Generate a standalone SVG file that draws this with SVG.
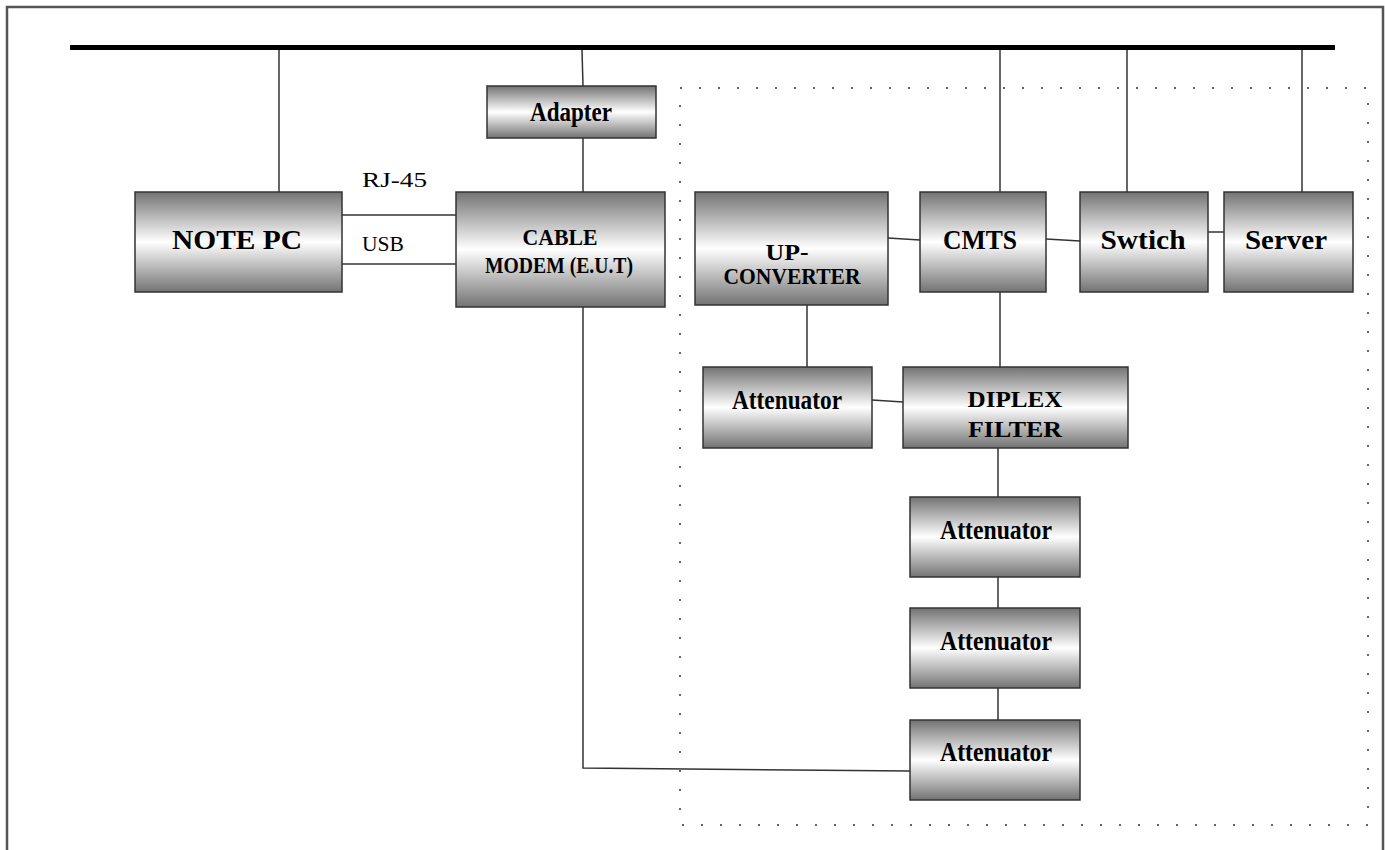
<svg xmlns="http://www.w3.org/2000/svg" width="1385" height="850" viewBox="0 0 1385 850">
<defs>
<linearGradient id="g" x1="0" y1="0" x2="0" y2="1">
<stop offset="0" stop-color="#737373"/>
<stop offset="0.5" stop-color="#ffffff"/>
<stop offset="1" stop-color="#737373"/>
</linearGradient>
<style>
.box{fill:url(#g);stroke:#333;stroke-width:1.5}
.t{font-family:"Liberation Serif","Times New Roman",serif;font-weight:bold;font-size:27px;fill:#000;text-anchor:middle}
.t2{font-size:23px}
.l{font-family:"Liberation Serif","Times New Roman",serif;font-size:20px;fill:#000}
.c{stroke:#333;stroke-width:1.5;fill:none}
</style>
</defs>
<rect width="1385" height="850" fill="#fff"/>
<path d="M7,850 V7 H1383 V850" fill="none" stroke="#555" stroke-width="2.5"/>
<line x1="70" y1="47.5" x2="1335" y2="47.5" stroke="#000" stroke-width="5"/>
<rect x="680" y="88" width="688" height="737" fill="none" stroke="#333" stroke-width="1.5" stroke-dasharray="2 17"/>
<g id="connectors">
<line class="c" x1="279" y1="50" x2="279" y2="192"/>
<line class="c" x1="582" y1="50" x2="583" y2="86"/>
<line class="c" x1="583" y1="138" x2="583" y2="192"/>
<line class="c" x1="342" y1="215" x2="456" y2="215"/>
<line class="c" x1="342" y1="264" x2="456" y2="264"/>
<polyline class="c" points="583,307 583,768 910,771"/>
<line class="c" x1="1000" y1="50" x2="1000" y2="192"/>
<line class="c" x1="1127" y1="50" x2="1127" y2="192"/>
<line class="c" x1="1302" y1="50" x2="1302" y2="192"/>
<line class="c" x1="888" y1="238" x2="920" y2="240"/>
<line class="c" x1="1046" y1="239" x2="1080" y2="241"/>
<line class="c" x1="1208" y1="232" x2="1224" y2="232"/>
<line class="c" x1="807" y1="305" x2="807" y2="367"/>
<line class="c" x1="1000" y1="292" x2="1000" y2="367"/>
<line class="c" x1="872" y1="400" x2="903" y2="402"/>
<line class="c" x1="998" y1="448" x2="998" y2="497"/>
<line class="c" x1="998" y1="577" x2="998" y2="608"/>
<line class="c" x1="998" y1="688" x2="998" y2="720"/>
</g>
<text class="l" x="362" y="187" textLength="65" lengthAdjust="spacingAndGlyphs">RJ-45</text>
<text class="l" x="362" y="251" textLength="42" lengthAdjust="spacingAndGlyphs">USB</text>
<g id="notepc">
<rect class="box" x="135" y="192" width="207" height="100"/>
<text class="t" x="237" y="249" textLength="130" lengthAdjust="spacingAndGlyphs">NOTE PC</text>
</g>
<g id="adapter">
<rect class="box" x="487" y="86" width="169" height="52"/>
<text class="t" x="571" y="121" textLength="82" lengthAdjust="spacingAndGlyphs">Adapter</text>
</g>
<g id="modem">
<rect class="box" x="456" y="192" width="209" height="115"/>
<text class="t t2" x="560" y="245" textLength="75" lengthAdjust="spacingAndGlyphs">CABLE</text>
<text class="t t2" x="559" y="273" textLength="148" lengthAdjust="spacingAndGlyphs">MODEM (E.U.T)</text>
</g>
<g id="upconverter">
<rect class="box" x="695" y="192" width="193" height="113"/>
<text class="t t2" x="787" y="260" textLength="43" lengthAdjust="spacingAndGlyphs">UP-</text>
<text class="t t2" x="792" y="284" textLength="137" lengthAdjust="spacingAndGlyphs">CONVERTER</text>
</g>
<g id="cmts">
<rect class="box" x="920" y="192" width="126" height="100"/>
<text class="t" x="980" y="249" textLength="74" lengthAdjust="spacingAndGlyphs">CMTS</text>
</g>
<g id="switch">
<rect class="box" x="1080" y="192" width="128" height="100"/>
<text class="t" x="1143" y="249" textLength="85" lengthAdjust="spacingAndGlyphs">Swtich</text>
</g>
<g id="server">
<rect class="box" x="1224" y="192" width="129" height="100"/>
<text class="t" x="1286" y="249" textLength="82" lengthAdjust="spacingAndGlyphs">Server</text>
</g>
<g id="att0">
<rect class="box" x="703" y="367" width="169" height="81"/>
<text class="t" x="787" y="409" textLength="110" lengthAdjust="spacingAndGlyphs">Attenuator</text>
</g>
<g id="diplex">
<rect class="box" x="903" y="367" width="225" height="81"/>
<text class="t t2" x="1015" y="407" textLength="95" lengthAdjust="spacingAndGlyphs">DIPLEX</text>
<text class="t t2" x="1015" y="437" textLength="94" lengthAdjust="spacingAndGlyphs">FILTER</text>
</g>
<g id="att1">
<rect class="box" x="910" y="497" width="170" height="80"/>
<text class="t" x="996" y="539" textLength="112" lengthAdjust="spacingAndGlyphs">Attenuator</text>
</g>
<g id="att2">
<rect class="box" x="910" y="608" width="170" height="80"/>
<text class="t" x="996" y="650" textLength="112" lengthAdjust="spacingAndGlyphs">Attenuator</text>
</g>
<g id="att3">
<rect class="box" x="910" y="720" width="170" height="80"/>
<text class="t" x="996" y="761" textLength="112" lengthAdjust="spacingAndGlyphs">Attenuator</text>
</g>
</svg>
